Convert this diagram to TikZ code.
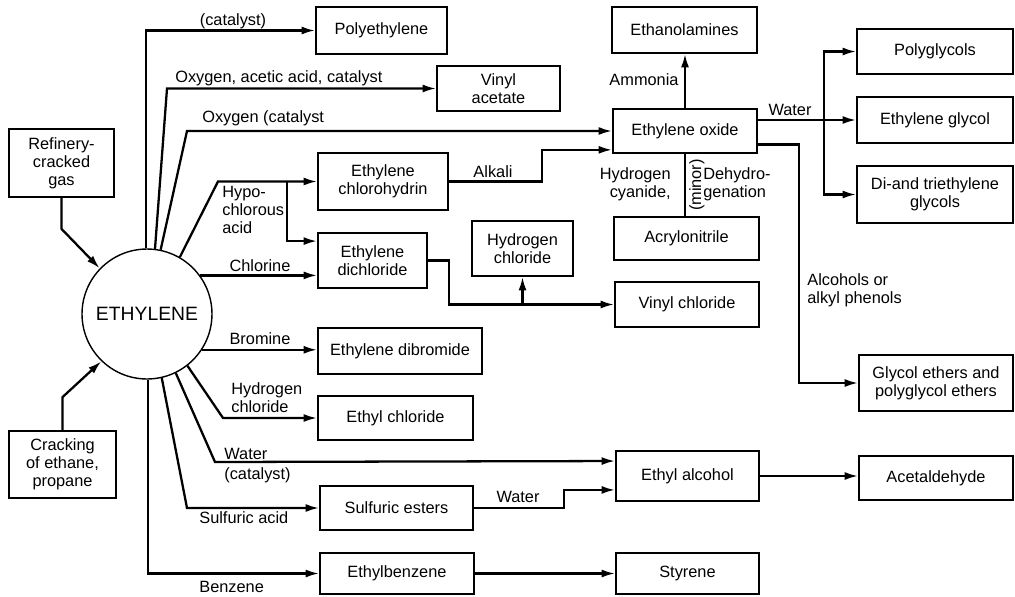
\documentclass[tikz,border=0pt]{standalone}
\usepackage{fontspec}
\setmainfont{Liberation Sans}
\usetikzlibrary{arrows.meta}
\newcommand{\lbfont}{\fontsize{9.3}{10.2}\selectfont}
\tikzset{
  prodbox/.style={draw, line width=1pt, align=center, inner sep=0pt,
                  font=\lbfont},
  feedbox/.style={prodbox},
  hub/.style={circle, draw, line width=0.8pt, minimum size=2.6cm,
              inner sep=0pt, font=\fontsize{11}{13}\selectfont},
  route/.style={draw, line width=1.3pt,
                -{Latex[length=2.7mm,width=1.6mm]}},
  plainroute/.style={draw, line width=0.9pt},
  reagent/.style={font=\lbfont, inner sep=0pt, align=left}
}

\begin{document}
\begin{tikzpicture}[x=0.02cm, y=-0.02cm]
  \useasboundingbox (0,0) rectangle (1015,596);

  % feedstocks and ethylene
  \node[hub] (eth) at (147,314) {ETHYLENE};
  \node[feedbox, minimum width=2.10cm, minimum height=1.36cm] (refinery)
    at (61.5,163) {Refinery-\\cracked\\gas};
  \node[feedbox, minimum width=2.14cm, minimum height=1.34cm] (cracking)
    at (62.5,464.5) {Cracking\\of ethane,\\propane};

  % first products
  \node[prodbox, minimum width=2.62cm, minimum height=0.94cm] (poly)
    at (381.5,30.5) {Polyethylene};
  \node[prodbox, minimum width=2.46cm, minimum height=0.90cm] (vinac)
    at (498.5,88.5) {Vinyl\\acetate};
  \node[prodbox, minimum width=2.88cm, minimum height=0.88cm] (eo)
    at (685,131) {Ethylene oxide};
  \node[prodbox, minimum width=2.60cm, minimum height=1.14cm] (chlorohyd)
    at (383,181.5) {Ethylene\\chlorohydrin};
  \node[prodbox, minimum width=2.18cm, minimum height=1.10cm] (dichlor)
    at (372.5,260.5) {Ethylene\\dichloride};
  \node[prodbox, minimum width=3.28cm, minimum height=0.92cm] (dibrom)
    at (400,351) {Ethylene dibromide};
  \node[prodbox, minimum width=3.10cm, minimum height=0.88cm] (ethylcl)
    at (395.5,418) {Ethyl chloride};
  \node[prodbox, minimum width=2.86cm, minimum height=1.00cm] (ethalc)
    at (687.5,476) {Ethyl alcohol};
  \node[prodbox, minimum width=3.06cm, minimum height=0.88cm] (sulf)
    at (396.5,508) {Sulfuric esters};
  \node[prodbox, minimum width=3.08cm, minimum height=0.82cm] (ethbenz)
    at (397,573.5) {Ethylbenzene};

  % second products
  \node[prodbox, minimum width=2.90cm, minimum height=0.92cm] (ethanol)
    at (684.5,30) {Ethanolamines};
  \node[prodbox, minimum width=2.90cm, minimum height=0.86cm] (acryl)
    at (686.5,238.5) {Acrylonitrile};
  \node[prodbox, minimum width=2.02cm, minimum height=1.10cm] (hcl)
    at (522.5,248.5) {Hydrogen\\chloride};
  \node[prodbox, minimum width=2.88cm, minimum height=0.90cm] (vinylcl)
    at (687,304.5) {Vinyl chloride};
  \node[prodbox, minimum width=2.86cm, minimum height=0.82cm] (styrene)
    at (687.5,573.5) {Styrene};
  \node[prodbox, minimum width=3.12cm, minimum height=0.90cm] (polyg)
    at (935,51.5) {Polyglycols};
  \node[prodbox, minimum width=3.12cm, minimum height=0.92cm] (eg)
    at (935,120) {Ethylene glycol};
  \node[prodbox, minimum width=3.12cm, minimum height=1.14cm] (diglyc)
    at (935,194.5) {Di-and triethylene\\glycols};
  \node[prodbox, minimum width=3.08cm, minimum height=1.12cm] (glyceth)
    at (936,383) {Glycol ethers and\\polyglycol ethers};
  \node[prodbox, minimum width=3.08cm, minimum height=0.88cm] (acetald)
    at (936,478) {Acetaldehyde};

  % feed lines
  \draw[route] (refinery.south) -- ++(0,31) -- (eth.136);
  \draw[route] (cracking.north) -- ++(0,-33) -- (eth.226);

  % routes out of ethylene
  \draw[route] (eth.91) |- (poly.west);
  \draw[route] (eth.83) -- (167,88.5) -- (vinac.west);
  \draw[route] (eth.78) -- (187,131) -- (eo.west);
  \coordinate (jhypo) at (287,181.5);
  \draw[route] (eth.60) -- (218,181.5) -- (chlorohyd.west);
  \draw[route] (jhypo) |- ([yshift=-5.1pt]dichlor.north west);
  \draw[route] (eth.36) -- (eth.36 -| dichlor.west);
  \draw[route] (eth.-33) -- (eth.-33 -| dibrom.west);
  \draw[route] (eth.-52) -- (223,418) -- (ethylcl.west);
  \draw[route] (eth.-64) -- (215,462) -- ([yshift=-6.2pt]ethalc.north west);
  \draw[route] (eth.-77) -- (187,508) -- (sulf.west);
  \draw[route] (eth.-89) |- (ethbenz.west);

  % further steps
  \draw[route] (chlorohyd.east) -- ++(93,0)
    |- ([yshift=2.3pt]eo.south west);
  \draw[route] (dichlor.east) -- ++(21,0) |- (vinylcl.west);
  \draw[route] (hcl.south |- vinylcl.west) -- (hcl.south);
  \draw[route] (sulf.east) -- ++(90,0) |- ([yshift=6.8pt]ethalc.south west);
  \draw[route] (ethalc.east) -- (ethalc.east -| acetald.west);
  \draw[route] (ethbenz.east) -- (styrene.west);
  \draw[route] (eo.north) -- (eo.north |- ethanol.south);
  \draw[plainroute] (eo.south) -- (eo.south |- acryl.north);
  \coordinate (jwater) at (824,120);
  \draw[route] (eo.east |- eg.west) -- (eg.west);
  \draw[route] (jwater) |- (polyg.west);
  \draw[route] (jwater) |- (diglyc.west);
  \draw[route] ([yshift=5.4pt]eo.south east) -- ++(41,0) |- (glyceth.west);

  % reagent labels
  \node[reagent] (lcat) at (233,21) {(catalyst)};
  \node[reagent, anchor=west] (lacetic) at (175,78)
    {Oxygen, acetic acid, catalyst};
  \node[reagent, anchor=west] (loxy) at (202,118) {Oxygen (catalyst};
  \node[reagent, anchor=west] (lhypo) at (222,210) {Hypo-\\chlorous\\acid};
  \node[reagent] (lcl) at (260,266) {Chlorine};
  \node[reagent] (lalk) at (493,172) {Alkali};
  \node[reagent] (lbr) at (260,339) {Bromine};
  \node[reagent, anchor=west] (lhcl) at (231,398) {Hydrogen\\chloride};
  \node[reagent, anchor=west] (lwat) at (224,454) {Water};
  \node[reagent, anchor=west] (lwcat) at (224,475) {(catalyst)};
  \node[reagent, anchor=west] (lsulf) at (199,518) {Sulfuric acid};
  \node[reagent, anchor=west] (lbenz) at (199,587) {Benzene};
  \node[reagent] (lwest) at (518,497) {Water};
  \node[reagent] (lnh3) at (644,80) {Ammonia};
  \node[reagent, anchor=east, align=right] (lhcn) at (671,184)
    {Hydrogen\\cyanide,};
  \node[reagent, rotate=90] (lminor) at (697,185) {(minor)};
  \node[reagent, anchor=west] (ldehyd) at (703,184) {Dehydro-\\genation};
  \node[reagent] (lweo) at (790,110) {Water};
  \node[reagent, anchor=west] (lalc) at (807,290)
    {Alcohols or\\alkyl phenols};
\end{tikzpicture}
\end{document}
